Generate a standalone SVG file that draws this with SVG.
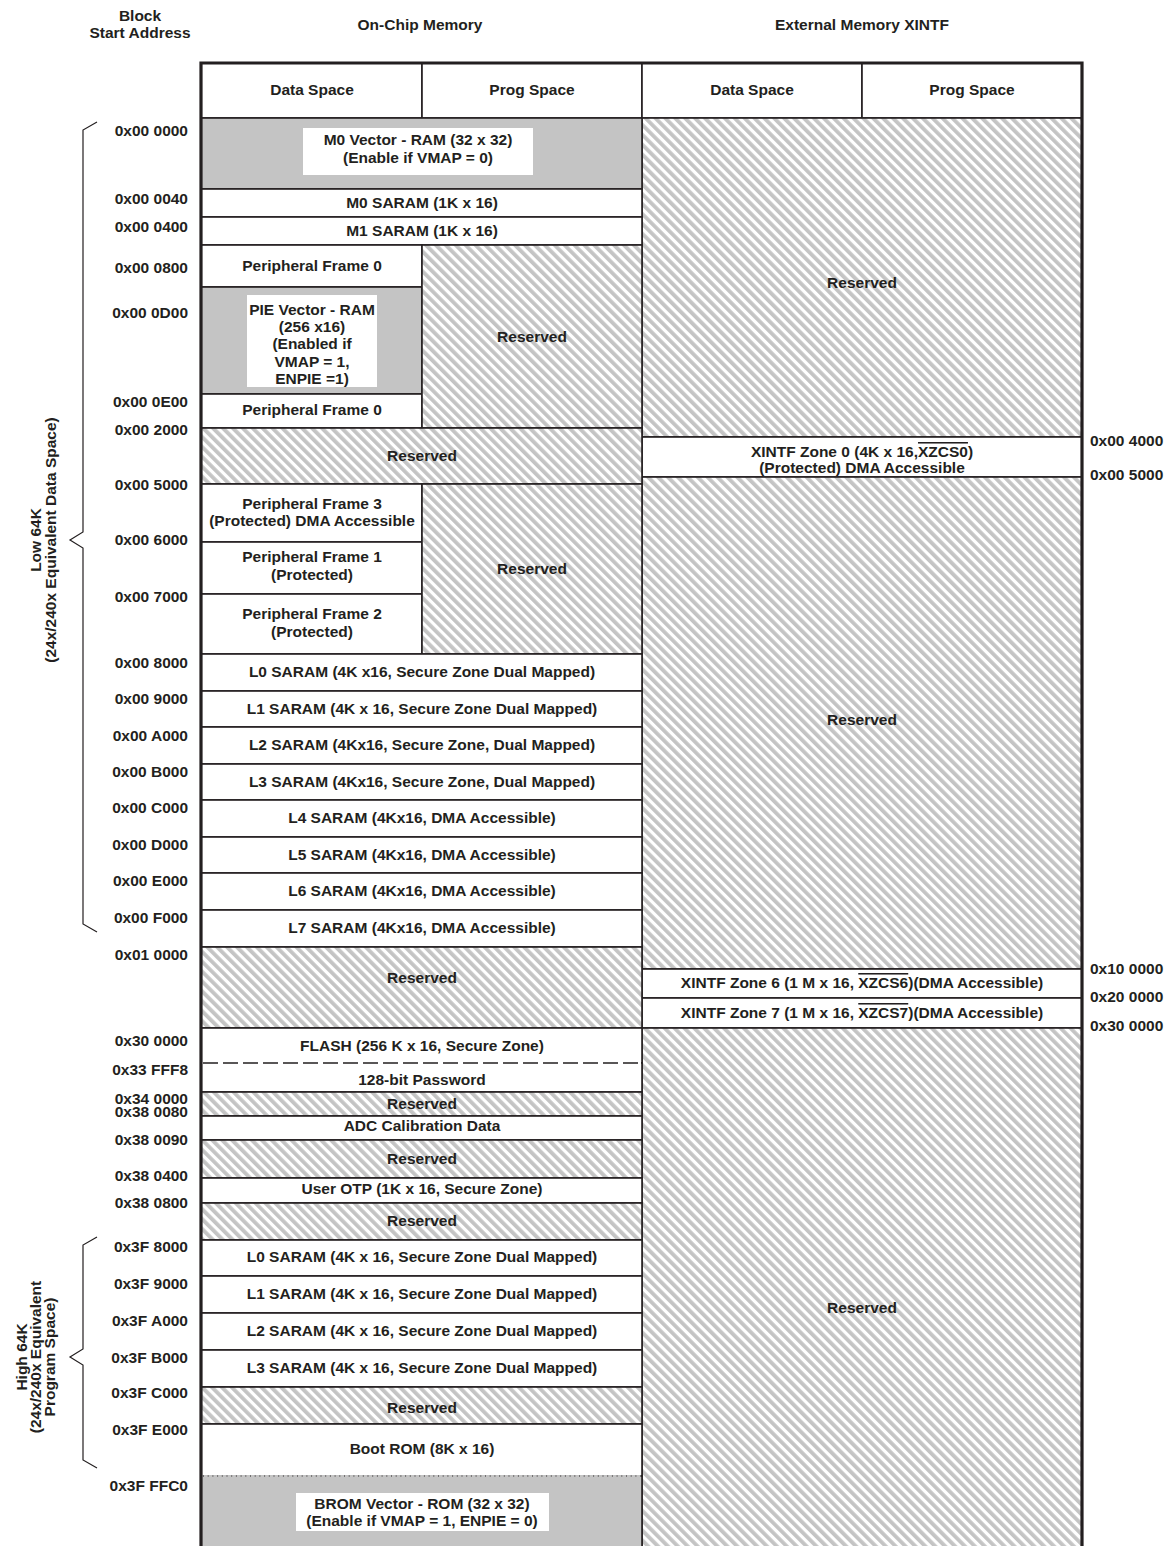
<svg xmlns="http://www.w3.org/2000/svg" width="1169" height="1546" viewBox="0 0 1169 1546">
<style>
.t{font-family:"Liberation Sans",Arial,sans-serif;font-weight:bold;font-size:15.5px;fill:#231f20;text-anchor:middle}
.e{text-anchor:end}
.s{text-anchor:start}
.c{fill:#fff;stroke:#231f20;stroke-width:1.6}
.h{fill:url(#hatch);stroke:#231f20;stroke-width:1.6}
.g{fill:#c4c4c4;stroke:#231f20;stroke-width:1.6}
.w{fill:#fff;stroke:none}
.br{fill:none;stroke:#231f20;stroke-width:1.2}
.ov{text-decoration:overline}
</style>
<defs>
<pattern id="hatch" width="7" height="7" patternUnits="userSpaceOnUse" patternTransform="rotate(-45)">
<rect width="7" height="7" fill="#fff"/>
<rect width="3.8" height="7" fill="#c4c4c4"/>
</pattern>
</defs>
<rect width="1169" height="1546" fill="#fff"/>

<g id="headers">
<text class="t" x="140" y="21">Block</text>
<text class="t" x="140" y="38">Start Address</text>
<text class="t" x="420" y="30">On-Chip Memory</text>
<text class="t" x="862" y="30">External Memory XINTF</text>
</g>

<g id="column-headers">
<rect class="c" x="201" y="63" width="221" height="55"/>
<rect class="c" x="422" y="63" width="220" height="55"/>
<rect class="c" x="642" y="63" width="220" height="55"/>
<rect class="c" x="862" y="63" width="220" height="55"/>
<text class="t" x="312" y="95">Data Space</text>
<text class="t" x="532" y="95">Prog Space</text>
<text class="t" x="752" y="95">Data Space</text>
<text class="t" x="972" y="95">Prog Space</text>
</g>

<!-- External memory -->
<g id="ext-reserved-1"><rect class="h" x="642" y="118" width="440" height="319"/><text class="t" x="862" y="288">Reserved</text></g>
<g id="xintf-zone0"><rect class="c" x="642" y="437" width="440" height="40"/>
<text class="t" x="862" y="457">XINTF Zone 0 (4K x 16,<tspan class="ov">XZCS0</tspan>)</text>
<text class="t" x="862" y="473">(Protected) DMA Accessible</text></g>
<g id="ext-reserved-2"><rect class="h" x="642" y="477" width="440" height="492"/><text class="t" x="862" y="725">Reserved</text></g>
<g id="xintf-zone6"><rect class="c" x="642" y="969" width="440" height="29"/><text class="t" x="862" y="988">XINTF Zone 6 (1 M x 16, <tspan class="ov">XZCS6</tspan>)(DMA Accessible)</text></g>
<g id="xintf-zone7"><rect class="c" x="642" y="998" width="440" height="30"/><text class="t" x="862" y="1018">XINTF Zone 7 (1 M x 16, <tspan class="ov">XZCS7</tspan>)(DMA Accessible)</text></g>
<g id="ext-reserved-3"><rect class="h" x="642" y="1028" width="440" height="530"/><text class="t" x="862" y="1313">Reserved</text></g>

<!-- On-chip memory -->
<g id="m0-vector"><rect class="g" x="201" y="118" width="441" height="71"/><rect class="w" x="303" y="128" width="230" height="47"/>
<text class="t" x="418" y="145">M0 Vector - RAM (32 x 32)</text><text class="t" x="418" y="163">(Enable if VMAP = 0)</text></g>
<g id="m0-saram"><rect class="c" x="201" y="189" width="441" height="28"/><text class="t" x="422" y="208">M0 SARAM (1K x 16)</text></g>
<g id="m1-saram"><rect class="c" x="201" y="217" width="441" height="28"/><text class="t" x="422" y="236">M1 SARAM (1K x 16)</text></g>
<g id="pf0-a"><rect class="c" x="201" y="245" width="221" height="42"/><text class="t" x="312" y="271">Peripheral Frame 0</text></g>
<g id="pie-vector"><rect class="g" x="201" y="287" width="221" height="107"/><rect class="w" x="247" y="295" width="130" height="92"/>
<text class="t" x="312" y="315">PIE Vector - RAM</text>
<text class="t" x="312" y="332">(256 x16)</text>
<text class="t" x="312" y="349">(Enabled if</text>
<text class="t" x="312" y="367">VMAP = 1,</text>
<text class="t" x="312" y="384">ENPIE =1)</text></g>
<g id="pf0-b"><rect class="c" x="201" y="394" width="221" height="34"/><text class="t" x="312" y="415">Peripheral Frame 0</text></g>
<g id="prog-reserved-1"><rect class="h" x="422" y="245" width="220" height="183"/><text class="t" x="532" y="342">Reserved</text></g>
<g id="reserved-2000"><rect class="h" x="201" y="428" width="441" height="56"/><text class="t" x="422" y="461">Reserved</text></g>
<g id="pf3"><rect class="c" x="201" y="484" width="221" height="58"/><text class="t" x="312" y="509">Peripheral Frame 3</text><text class="t" x="312" y="526">(Protected) DMA Accessible</text></g>
<g id="pf1"><rect class="c" x="201" y="542" width="221" height="52"/><text class="t" x="312" y="562">Peripheral Frame 1</text><text class="t" x="312" y="580">(Protected)</text></g>
<g id="pf2"><rect class="c" x="201" y="594" width="221" height="60"/><text class="t" x="312" y="619">Peripheral Frame 2</text><text class="t" x="312" y="637">(Protected)</text></g>
<g id="prog-reserved-2"><rect class="h" x="422" y="484" width="220" height="170"/><text class="t" x="532" y="574">Reserved</text></g>
<g id="l0-low"><rect class="c" x="201" y="654" width="441" height="37"/><text class="t" x="422" y="677">L0 SARAM (4K x16, Secure Zone Dual Mapped)</text></g>
<g id="l1-low"><rect class="c" x="201" y="691" width="441" height="36"/><text class="t" x="422" y="714">L1 SARAM (4K x 16, Secure Zone Dual Mapped)</text></g>
<g id="l2-low"><rect class="c" x="201" y="727" width="441" height="37"/><text class="t" x="422" y="750">L2 SARAM (4Kx16, Secure Zone, Dual Mapped)</text></g>
<g id="l3-low"><rect class="c" x="201" y="764" width="441" height="36"/><text class="t" x="422" y="787">L3 SARAM (4Kx16, Secure Zone, Dual Mapped)</text></g>
<g id="l4"><rect class="c" x="201" y="800" width="441" height="37"/><text class="t" x="422" y="823">L4 SARAM (4Kx16, DMA Accessible)</text></g>
<g id="l5"><rect class="c" x="201" y="837" width="441" height="36"/><text class="t" x="422" y="860">L5 SARAM (4Kx16, DMA Accessible)</text></g>
<g id="l6"><rect class="c" x="201" y="873" width="441" height="37"/><text class="t" x="422" y="896">L6 SARAM (4Kx16, DMA Accessible)</text></g>
<g id="l7"><rect class="c" x="201" y="910" width="441" height="37"/><text class="t" x="422" y="933">L7 SARAM (4Kx16, DMA Accessible)</text></g>
<g id="reserved-010000"><rect class="h" x="201" y="947" width="441" height="81"/><text class="t" x="422" y="983">Reserved</text></g>
<g id="flash"><rect class="c" x="201" y="1028" width="441" height="35"/><text class="t" x="422" y="1051">FLASH (256 K x 16, Secure Zone)</text></g>
<g id="password"><rect class="c" x="201" y="1063" width="441" height="29"/><text class="t" x="422" y="1085">128-bit Password</text>
<line x1="202" y1="1063" x2="641" y2="1063" stroke="#fff" stroke-width="2.5"/>
<line x1="203" y1="1063" x2="641" y2="1063" stroke="#231f20" stroke-width="1.4" stroke-dasharray="15 5"/></g>
<g id="reserved-340000"><rect class="h" x="201" y="1092" width="441" height="24"/><text class="t" x="422" y="1109">Reserved</text></g>
<g id="adc-cal"><rect class="c" x="201" y="1116" width="441" height="24"/><text class="t" x="422" y="1131">ADC Calibration Data</text></g>
<g id="reserved-380090"><rect class="h" x="201" y="1140" width="441" height="38"/><text class="t" x="422" y="1164">Reserved</text></g>
<g id="user-otp"><rect class="c" x="201" y="1178" width="441" height="25"/><text class="t" x="422" y="1194">User OTP (1K x 16, Secure Zone)</text></g>
<g id="reserved-380800"><rect class="h" x="201" y="1203" width="441" height="37"/><text class="t" x="422" y="1226">Reserved</text></g>
<g id="l0-high"><rect class="c" x="201" y="1240" width="441" height="36"/><text class="t" x="422" y="1262">L0 SARAM (4K x 16, Secure Zone Dual Mapped)</text></g>
<g id="l1-high"><rect class="c" x="201" y="1276" width="441" height="37"/><text class="t" x="422" y="1299">L1 SARAM (4K x 16, Secure Zone Dual Mapped)</text></g>
<g id="l2-high"><rect class="c" x="201" y="1313" width="441" height="37"/><text class="t" x="422" y="1336">L2 SARAM (4K x 16, Secure Zone Dual Mapped)</text></g>
<g id="l3-high"><rect class="c" x="201" y="1350" width="441" height="37"/><text class="t" x="422" y="1373">L3 SARAM (4K x 16, Secure Zone Dual Mapped)</text></g>
<g id="reserved-3fc000"><rect class="h" x="201" y="1387" width="441" height="37"/><text class="t" x="422" y="1413">Reserved</text></g>
<g id="boot-rom"><rect class="c" x="201" y="1424" width="441" height="52"/><text class="t" x="422" y="1454">Boot ROM (8K x 16)</text></g>
<g id="brom-vector"><rect class="g" x="201" y="1476" width="441" height="82"/>
<line x1="202" y1="1476" x2="641" y2="1476" stroke="#c4c4c4" stroke-width="2"/>
<line x1="203" y1="1476" x2="641" y2="1476" stroke="#231f20" stroke-width="1" stroke-dasharray="1 3.7"/>
<rect class="w" x="296" y="1493" width="253" height="38"/>
<text class="t" x="422" y="1509">BROM Vector - ROM (32 x 32)</text><text class="t" x="422" y="1526">(Enable if VMAP = 1, ENPIE = 0)</text></g>

<g id="outer-frame">
<path d="M201,1548 V63 H1082 V1548" fill="none" stroke="#231f20" stroke-width="3.2"/>
</g>

<g id="addresses">
<text class="t e" x="188" y="136">0x00 0000</text>
<text class="t e" x="188" y="204">0x00 0040</text>
<text class="t e" x="188" y="232">0x00 0400</text>
<text class="t e" x="188" y="273">0x00 0800</text>
<text class="t e" x="188" y="318">0x00 0D00</text>
<text class="t e" x="188" y="407">0x00 0E00</text>
<text class="t e" x="188" y="435">0x00 2000</text>
<text class="t e" x="188" y="490">0x00 5000</text>
<text class="t e" x="188" y="545">0x00 6000</text>
<text class="t e" x="188" y="602">0x00 7000</text>
<text class="t e" x="188" y="668">0x00 8000</text>
<text class="t e" x="188" y="704">0x00 9000</text>
<text class="t e" x="188" y="741">0x00 A000</text>
<text class="t e" x="188" y="777">0x00 B000</text>
<text class="t e" x="188" y="813">0x00 C000</text>
<text class="t e" x="188" y="850">0x00 D000</text>
<text class="t e" x="188" y="886">0x00 E000</text>
<text class="t e" x="188" y="923">0x00 F000</text>
<text class="t e" x="188" y="960">0x01 0000</text>
<text class="t e" x="188" y="1046">0x30 0000</text>
<text class="t e" x="188" y="1075">0x33 FFF8</text>
<text class="t e" x="188" y="1104">0x34 0000</text>
<text class="t e" x="188" y="1117">0x38 0080</text>
<text class="t e" x="188" y="1145">0x38 0090</text>
<text class="t e" x="188" y="1181">0x38 0400</text>
<text class="t e" x="188" y="1208">0x38 0800</text>
<text class="t e" x="188" y="1252">0x3F 8000</text>
<text class="t e" x="188" y="1289">0x3F 9000</text>
<text class="t e" x="188" y="1326">0x3F A000</text>
<text class="t e" x="188" y="1363">0x3F B000</text>
<text class="t e" x="188" y="1398">0x3F C000</text>
<text class="t e" x="188" y="1435">0x3F E000</text>
<text class="t e" x="188" y="1491">0x3F FFC0</text>
<text class="t s" x="1090" y="446">0x00 4000</text>
<text class="t s" x="1090" y="480">0x00 5000</text>
<text class="t s" x="1090" y="974">0x10 0000</text>
<text class="t s" x="1090" y="1002">0x20 0000</text>
<text class="t s" x="1090" y="1031">0x30 0000</text>
</g>

<g id="braces">
<path class="br" d="M97,122 L83,130 V532 L70,540 L83,548 V924 L97,932"/>
<path class="br" d="M97,1237 L83,1245 V1349 L70,1357 L83,1365 V1460 L97,1468"/>
</g>

<g id="brace-labels">
<text class="t" transform="translate(41,540) rotate(-90)"><tspan x="0" y="0">Low 64K</tspan><tspan x="0" y="15">(24x/240x Equivalent Data Space)</tspan></text>
<text class="t" transform="translate(27,1357) rotate(-90)"><tspan x="0" y="0">High 64K</tspan><tspan x="0" y="14">(24x/240x Equivalent</tspan><tspan x="0" y="28">Program Space)</tspan></text>
</g>
</svg>
